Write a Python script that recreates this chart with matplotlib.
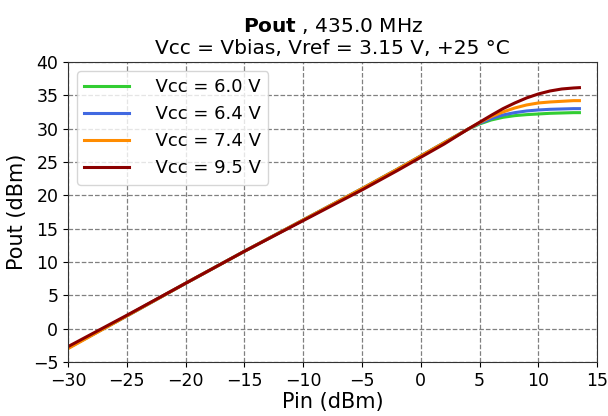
import matplotlib
matplotlib.use("Agg")
import matplotlib.pyplot as plt

pin = [-30, -25, -20, -15, -10, -5, -2, 0, 1, 2, 3, 4, 5, 6, 7, 8, 9, 10, 11, 12, 13, 13.5]

pout_60 = [-2.9, 1.9, 6.8, 11.6, 16.3, 21.0, 23.9, 25.9, 26.9, 27.9, 28.9, 29.9, 30.7, 31.3, 31.7, 31.95, 32.1, 32.2, 32.3, 32.35, 32.4, 32.4]
pout_64 = [-2.9, 1.9, 6.8, 11.6, 16.3, 21.0, 23.9, 25.9, 26.9, 27.9, 28.9, 29.9, 30.8, 31.5, 32.05, 32.4, 32.65, 32.8, 32.9, 32.95, 33.0, 33.0]
pout_74 = [-3.0, 1.9, 6.8, 11.6, 16.3, 21.0, 23.9, 25.9, 26.9, 27.9, 28.9, 29.9, 30.9, 31.8, 32.5, 33.1, 33.55, 33.85, 34.0, 34.1, 34.2, 34.2]
pout_95 = [-2.7, 2.0, 6.8, 11.6, 16.2, 20.8, 23.7, 25.7, 26.7, 27.7, 28.8, 29.9, 30.95, 32.0, 33.0, 33.85, 34.6, 35.2, 35.65, 35.95, 36.1, 36.15]

series = [
    ("Vcc = 6.0 V", pout_60, "limegreen"),
    ("Vcc = 6.4 V", pout_64, "royalblue"),
    ("Vcc = 7.4 V", pout_74, "darkorange"),
    ("Vcc = 9.5 V", pout_95, "darkred"),
]

fig = plt.figure(figsize=(6.08, 4.16), dpi=100)
ax = fig.add_axes([0.112, 0.130, 0.870, 0.721])

for label, vals, col in series:
    ax.plot(pin, vals, color=col, lw=2.2, label="  " + label)

ax.set_xlim(-30, 15)
ax.set_ylim(-5, 40)
ax.set_xticks(range(-30, 16, 5))
ax.set_yticks(range(-5, 41, 5))
ax.tick_params(labelsize=12.5)
ax.grid(True, linestyle="--", color="gray", lw=0.9)
ax.set_xlabel("Pin (dBm)", fontsize=15, labelpad=2)
ax.set_ylabel("Pout (dBm)", fontsize=15, labelpad=4)
ax.set_title("$\\bf{Pout}$ , 435.0 MHz\nVcc = Vbias, Vref = 3.15 V, +25 °C", fontsize=14.5)
for s in ax.spines.values():
    s.set_color("#333333")
ax.legend(loc="upper left", fontsize=13, handlelength=2.5, handletextpad=0.8)

fig.savefig("out.png", dpi=100)
